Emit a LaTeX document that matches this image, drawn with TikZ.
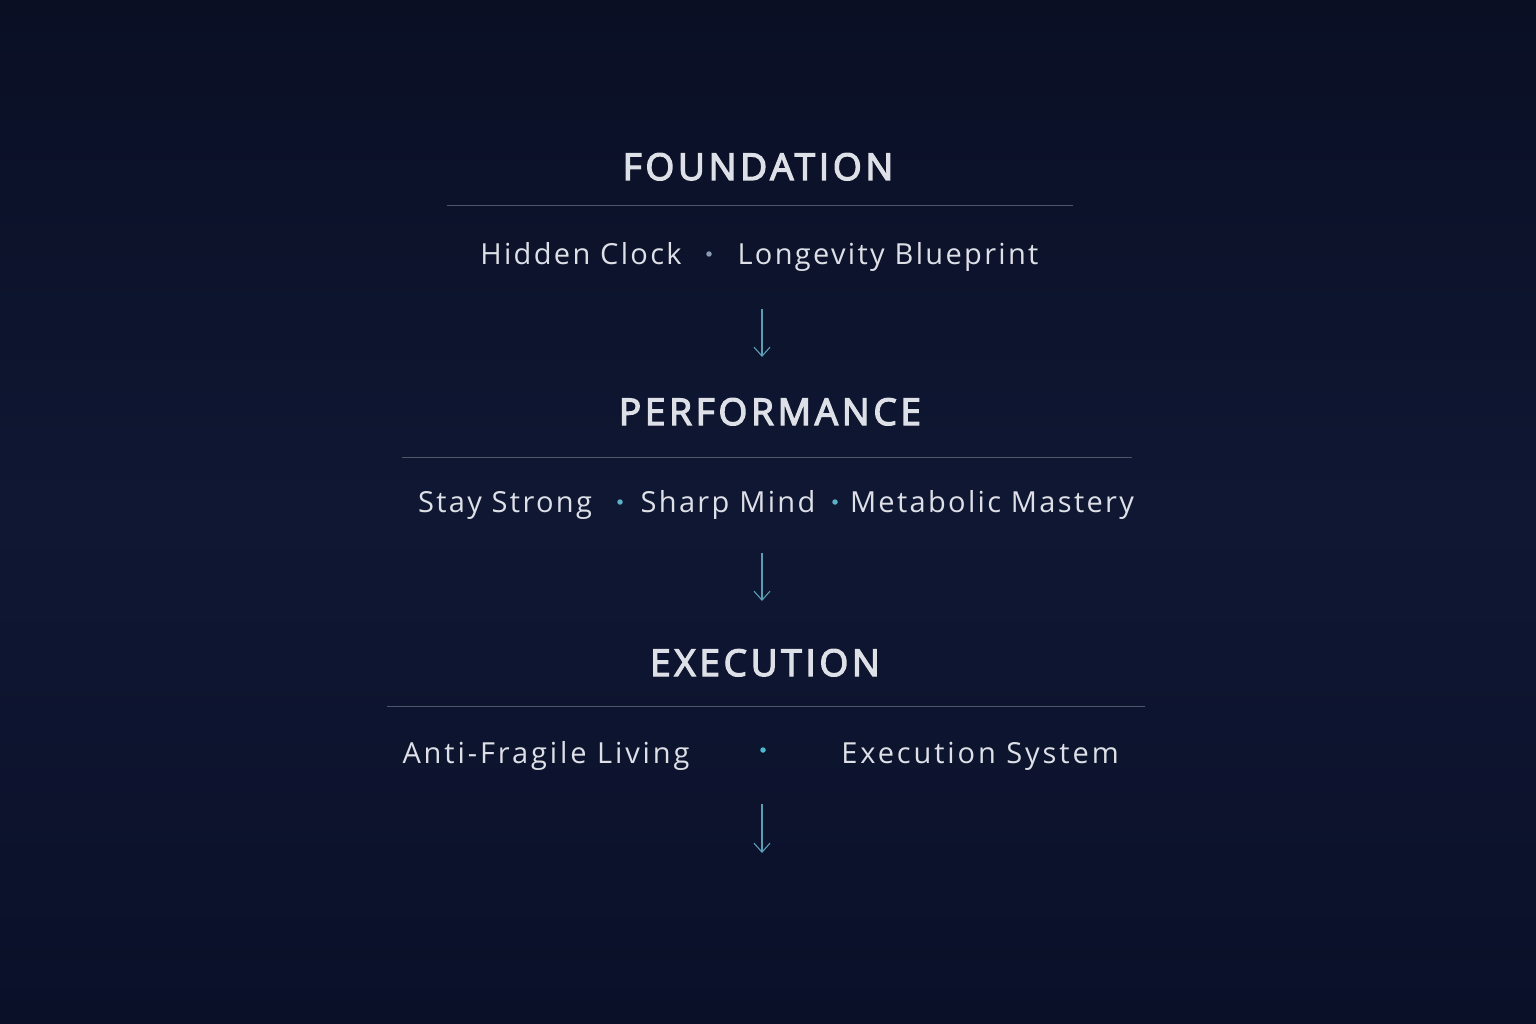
\documentclass[tikz,border=0pt]{standalone}
\usepackage{fontspec}
\setmainfont{Open Sans}[LetterSpace=8]
\newfontfamily\headfont[LetterSpace=10,FakeBold=3.5]{Open Sans}
\usetikzlibrary{arrows.meta}
\definecolor{bgtop}{HTML}{0A0F24}
\definecolor{bgmid}{HTML}{0F1733}
\definecolor{bgbot}{HTML}{0B1029}
\definecolor{txt}{HTML}{DEE0E7}
\definecolor{rule}{HTML}{4E566A}
\definecolor{dotgray}{HTML}{8A9AB0}
\definecolor{dotcyan}{HTML}{4BB8D2}
\definecolor{arrowc}{HTML}{5A9DB5}
\tikzset{
  head/.style={text=txt, font=\headfont\fontsize{37}{44}\selectfont, anchor=base, inner sep=0pt},
  item/.style={text=txt, font=\fontsize{29}{34}\selectfont, anchor=base, inner sep=0pt},
  wideitem/.style={item, font=\addfontfeature{LetterSpace=10}\fontsize{29}{34}\selectfont},
  sep/.style={draw=rule, line width=1pt},
  flow/.style={draw=arrowc, line width=1.1pt, -{Straight Barb[length=9pt,width=16pt,line width=1.1pt]}},
  bullet/.style={circle, inner sep=0pt, minimum size=5.5pt},
}
\begin{document}
\begin{tikzpicture}[x=1pt,y={(0pt,-1pt)}]
\useasboundingbox (0,0) rectangle (1536,1024);
\shade[top color=bgtop, bottom color=bgbot, middle color=bgmid] (0,0) rectangle (1536,1024);

% FOUNDATION
\node[head] (h1) at (758,180) {FOUNDATION};
\coordinate (l1a) at (447,206); \coordinate (l1b) at (1073,206);
\draw[sep] (l1a) -- (l1b);
\node[item] (a1) at (581,265) {Hidden Clock};
\node[bullet, fill=dotgray] (d1) at (709,254) {};
\node[item] (a2) at (888,265) {Longevity Blueprint};

% arrow 1
\coordinate (s1) at (762,309); \coordinate (e1) at (762,357);
\draw[flow] (s1) -- (e1);

% PERFORMANCE
\node[head] (h2) at (770,425) {PERFORMANCE};
\coordinate (l2a) at (402,457); \coordinate (l2b) at (1132,457);
\draw[sep] (l2a) -- (l2b);
\node[item] (b1) at (505,512) {Stay Strong};
\node[bullet, fill=dotcyan!70!dotgray] (d2) at (620,502) {};
\node[item] (b2) at (728,512) {Sharp Mind};
\node[bullet, fill=dotcyan!70!dotgray] (d3) at (835,502) {};
\node[item] (b3) at (992,512) {Metabolic Mastery};

% arrow 2
\coordinate (s2) at (762,553); \coordinate (e2) at (762,601);
\draw[flow] (s2) -- (e2);

% EXECUTION
\node[head] (h3) at (765,676) {EXECUTION};
\coordinate (l3a) at (387,706); \coordinate (l3b) at (1145,706);
\draw[sep] (l3a) -- (l3b);
\node[wideitem] (c1) at (546,763) {Anti-Fragile Living};
\node[bullet, fill=dotcyan] (d4) at (763,750) {};
\node[wideitem] (c2) at (980,763) {Execution System};

% arrow 3
\coordinate (s3) at (762,804); \coordinate (e3) at (762,853);
\draw[flow] (s3) -- (e3);
\end{tikzpicture}
\end{document}
